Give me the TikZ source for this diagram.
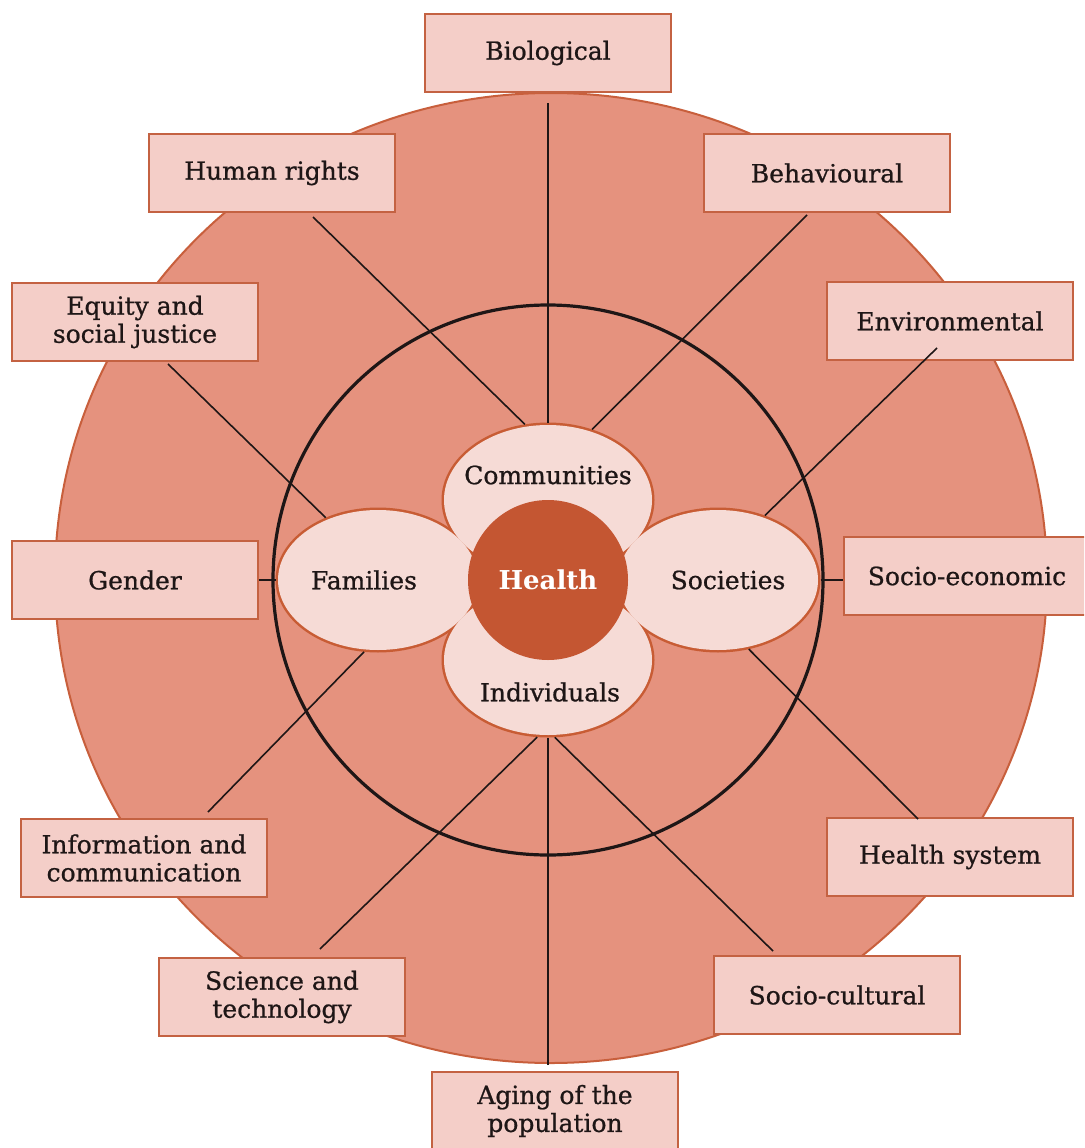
\documentclass[tikz,border=0pt]{standalone}
\usepackage{fontspec}
\setmainfont[FakeBold=0.8]{DejaVu Serif}
\newfontfamily\healthfont{DejaVu Serif Bold}
\usetikzlibrary{shapes.geometric,calc}
\definecolor{outerfill}{RGB}{229,146,126}
\definecolor{outerline}{RGB}{200,95,60}
\definecolor{boxfill}{RGB}{244,206,200}
\definecolor{boxline}{RGB}{196,98,66}
\definecolor{petalfill}{RGB}{246,219,214}
\definecolor{petalline}{RGB}{200,92,52}
\definecolor{healthfill}{RGB}{196,86,50}
\definecolor{ink}{RGB}{30,22,22}
\begin{document}
\begin{tikzpicture}[x=1pt,y=-1pt,
  labelbox/.style={draw=boxline, line width=1.8pt, fill=boxfill, minimum width=246pt,
    minimum height=78pt, inner sep=2pt, align=center, text=ink,
    font=\fontsize{25}{28}\selectfont},
  petalshape/.style={ellipse, draw=petalline, line width=5pt, fill=petalfill, inner sep=0pt},
  petaltext/.style={text=ink, inner sep=0pt, font=\fontsize{25}{28}\selectfont},
  spoke/.style={draw=ink, line width=1.6pt}]
\useasboundingbox (0,0) rectangle (1084,1148);
\clip (0,0) rectangle (1084,1148);
\fill[white] (0,0) rectangle (1084,1148);
% outer disc
\draw[fill=outerfill, draw=outerline, line width=2pt] (551,578) ellipse [x radius=496pt, y radius=485pt];
% inner ring
\draw[ink, line width=3.2pt] (548,580) circle [radius=275pt];
% boxes
\node[labelbox] (bio)  at (548,53)   {Biological};
\node[labelbox] (hr)   at (272,173)  {Human rights};
\node[labelbox] (beh)  at (827,173)  {Behavioural};
\node[labelbox] (eq)   at (135,322)  {Equity and\\social justice};
\node[labelbox] (env)  at (950,321)  {Environmental};
\node[labelbox] (gen)  at (135,580)  {Gender};
\node[labelbox] (se)   at (967,576)  {Socio-economic};
\node[labelbox] (info) at (144,858)  {Information and\\communication};
\node[labelbox] (hs)   at (950,857)  {Health system};
\node[labelbox] (sci)  at (282,997)  {Science and\\technology};
\node[labelbox] (sc)   at (837,995)  {Socio-cultural};
\node[labelbox] (age)  at (555,1111) {Aging of the\\population};
% petals (shapes)
\node[petalshape, minimum width=208pt, minimum height=150pt] (comm)  at (548,500) {};
\node[petalshape, minimum width=208pt, minimum height=150pt] (indiv) at (548,660) {};
\node[petalshape, minimum width=200pt, minimum height=140pt] (fam)   at (378,580) {};
\node[petalshape, minimum width=200pt, minimum height=140pt] (soc)   at (718,580) {};
% free ends of spokes near boxes
\coordinate (bioA)  at (548,103);
\coordinate (hrA)   at (313,217);
\coordinate (behA)  at (807,215);
\coordinate (eqA)   at (168,364);
\coordinate (envA)  at (937,348);
\coordinate (infoA) at (208,812);
\coordinate (sciA)  at (320,949);
\coordinate (ageA)  at (548,1065);
\coordinate (scA)   at (773,951);
\coordinate (hsA)   at (918,819);
% spokes
\draw[spoke] (bioA) -- (comm.north);
\draw[spoke] (hrA) -- (comm.107.5);
\draw[spoke] (behA) -- (comm.58.3);
\draw[spoke] (eqA) -- (fam.130.4);
\draw[spoke] (envA) -- (soc.54.4);
\draw[spoke] (gen.east) -- (fam.west);
\draw[spoke] (soc.east) -- (soc.east -| se.west);
\draw[spoke] (infoA) -- (fam.259.5);
\draw[spoke] (sciA) -- (indiv.262);
\draw[spoke] (ageA) -- (indiv.south);
\draw[spoke] (scA) -- (indiv.275);
\draw[spoke] (hsA) -- (soc.294.8);
% petals refill so that only the outline of their union shows
\fill[petalfill] (comm.center)  ellipse [x radius=104pt, y radius=75pt];
\fill[petalfill] (indiv.center) ellipse [x radius=104pt, y radius=75pt];
\fill[petalfill] (fam.center)   ellipse [x radius=100pt, y radius=70pt];
\fill[petalfill] (soc.center)   ellipse [x radius=100pt, y radius=70pt];
% petal labels
\node[petaltext] (commT)  at (548,475) {Communities};
\node[petaltext] (indivT) at (550,692) {Individuals};
\node[petaltext] (famT)   at (364,580) {Families};
\node[petaltext] (socT)   at (728,580) {Societies};
% centre
\node[circle, fill=healthfill, minimum size=160pt, inner sep=0pt, text=white,
  font=\fontsize{26}{30}\healthfont] (health) at (548,580) {Health};
\end{tikzpicture}
\end{document}
